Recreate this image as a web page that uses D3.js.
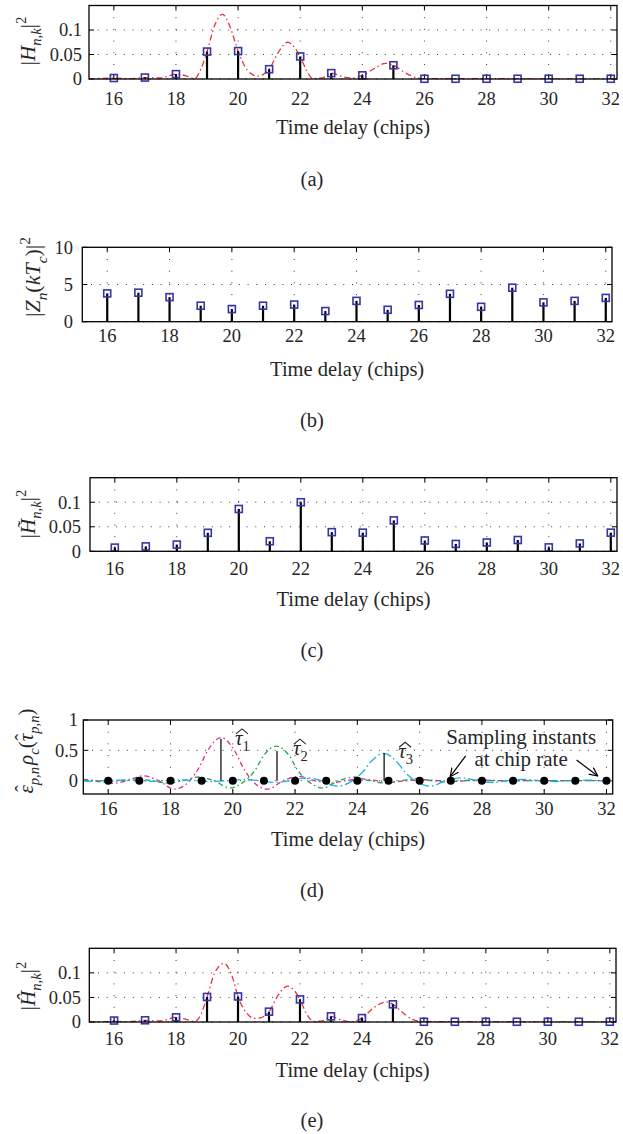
<!DOCTYPE html>
<html><head><meta charset="utf-8">
<script src="https://cdn.jsdelivr.net/npm/d3@7"></script>
<style>body{margin:0;background:#fff} svg{display:block} text{font-family:"Liberation Serif","DejaVu Serif",serif;fill:#262626;font-weight:normal}</style>
</head><body><svg id="c" width="623" height="1134"></svg>
<script>
// ---------------- DATA ----------------
const delays = [16,17,18,19,20,21,22,23,24,25,26,27,28,29,30,31,32];
const xTicks = [16,18,20,22,24,26,28,30,32];
const xDomain = [15.2, 32.2];

const hA = [0.002,0.003,0.010,0.056,0.057,0.020,0.046,0.012,0.0075,0.028,0.0005,0.0005,0.0005,0.0005,0.0005,0.0005,0.0005];
const zB = [3.8,3.9,3.3,2.15,1.7,2.15,2.3,1.43,2.8,1.6,2.25,3.75,2.0,4.57,2.6,2.8,3.2];
const hC = [0.0075,0.010,0.0137,0.0377,0.0863,0.0205,0.100,0.039,0.038,0.063,0.022,0.015,0.018,0.023,0.008,0.016,0.038];
const hE = [0.003,0.0035,0.0095,0.051,0.052,0.021,0.046,0.0115,0.008,0.036,0.0005,0.0005,0.0005,0.0005,0.0005,0.0005,0.0005];

const curveA = [[15.2,0],[16,0.002],[16.5,0.0005],[17,0.003],[17.5,0.002],[18,0.010],[18.3,0.007],[18.6,0.001],[18.8,0.02],[19,0.056],[19.25,0.11],[19.5,0.132],[19.75,0.105],[20,0.057],[20.3,0.018],[20.62,0.006],[20.8,0.009],[21,0.020],[21.3,0.055],[21.6,0.075],[21.8,0.066],[22,0.046],[22.2,0.018],[22.4,0.001],[22.7,0.002],[23,0.012],[23.4,0.004],[23.7,0.002],[24,0.0075],[24.4,0.022],[24.75,0.032],[25,0.028],[25.4,0.012],[25.8,0.002],[26,0.0005],[28,0.0005],[32.2,0]];
const curveE = [[15.2,0],[16,0.001],[16.5,0.0005],[17,0.0035],[17.5,0.002],[18,0.0095],[18.3,0.006],[18.6,0.001],[18.8,0.015],[19,0.051],[19.25,0.100],[19.55,0.119],[19.8,0.095],[20,0.052],[20.25,0.020],[20.55,0.0075],[20.75,0.009],[21,0.021],[21.3,0.055],[21.6,0.073],[21.8,0.065],[22,0.046],[22.2,0.018],[22.45,0.001],[22.75,0.003],[23,0.0115],[23.3,0.005],[23.6,0.0005],[24,0.008],[24.4,0.030],[24.8,0.041],[25,0.036],[25.3,0.020],[25.6,0.006],[26,0.0005],[28,0.0005],[32.2,0]];

const pathMagenta = [[15.2,0.02],[15.62,0],[16.12,-0.045],[16.62,0],[17.12,0.08],[17.62,0],[18.12,-0.14],[18.62,0],[18.9,0.2],[19.2,0.5],[19.62,0.71],[20.05,0.5],[20.35,0.2],[20.62,0],[21.12,-0.14],[21.62,0],[22.12,0.07],[22.62,0],[23.12,-0.04],[23.62,0],[24.12,0.03],[24.62,0],[25.12,-0.02],[25.62,0],[26.12,0.015],[26.62,0],[27.12,-0.01],[27.62,0],[28.12,0.008],[28.62,0],[32.2,0]];
const pathGreen = [[15.2,0.01],[15.4,0],[15.9,-0.02],[16.4,0],[16.9,0.03],[17.4,0],[17.9,-0.04],[18.4,0],[18.9,0.06],[19.4,0],[19.9,-0.12],[20.4,0],[20.7,0.16],[21.0,0.42],[21.4,0.57],[21.8,0.42],[22.1,0.16],[22.4,0],[22.9,-0.12],[23.4,0],[23.9,0.06],[24.4,0],[24.9,-0.04],[25.4,0],[25.9,0.03],[26.4,0],[26.9,-0.02],[27.4,0],[27.9,0.012],[28.4,0],[28.9,-0.008],[29.4,0],[32.2,0]];
const pathCyan = [[15.2,0.005],[15.35,-0.01],[15.85,0],[16.35,0.01],[16.85,0],[17.35,-0.012],[17.85,0],[18.35,0.013],[18.85,0],[19.35,-0.015],[19.85,0],[20.35,0.02],[20.85,0],[21.35,-0.03],[21.85,0],[22.35,0.045],[22.85,0],[23.35,-0.09],[23.85,0],[24.15,0.13],[24.45,0.32],[24.85,0.45],[25.25,0.32],[25.55,0.13],[25.85,0],[26.35,-0.09],[26.85,0],[27.35,0.045],[27.85,0],[28.35,-0.03],[28.85,0],[29.35,0.02],[29.85,0],[30.35,-0.015],[30.85,0],[31.35,0.01],[31.85,0],[32.2,-0.005]];
const tauEst = [19.62, 21.42, 24.86];
const tauAmp = [0.69, 0.49, 0.455];
const tauLabels = ['1', '2', '3'];
const tauLabelPos = [[20.07, 0.59], [21.93, 0.42], [25.31, 0.37]];

// ---------------- DRAW ----------------
const svg = d3.select('#c');
const FS_TICK = 18.5, FS_LAB = 20.5;
const HAT = '\u02C6';

// parts: {t, it, sub, sup, hat}
function addParts(t, parts, size) {
  let shift = 0, pendingDx = 0, pendingDy = 0;
  parts.forEach(p => {
    const target = p.sub ? size * 0.3 : p.sup ? -size * 0.45 : 0;
    const ts = t.append('tspan').text(p.t).attr('dy', target - shift + pendingDy);
    shift = target;
    const dx = (p.dx || 0) + pendingDx;
    if (dx) ts.attr('dx', dx);
    pendingDx = 0; pendingDy = 0;
    if (p.it) ts.style('font-style', 'italic');
    if (p.sub || p.sup) ts.style('font-size', (size * 0.7) + 'px');
    if (p.hat) {
      const w = p.hat * size, hw = 0.333 * size;
      t.append('tspan').text(HAT).attr('dx', -(w / 2 + hw / 2) + 0.06 * size).attr('dy', -size * 0.12)
        .style('font-size', size + 'px');
      pendingDx = (w / 2 - hw / 2) - 0.06 * size;
      pendingDy = size * 0.12;
    }
  });
}
function mathText(x, y, parts, size) {
  const t = svg.append('text').attr('transform', `translate(${x},${y}) rotate(-90)`)
    .attr('text-anchor', 'middle').style('font-size', size + 'px');
  addParts(t, parts, size);
  return t;
}

function panel(cfg) {
  const x = d3.scaleLinear().domain(xDomain).range([cfg.left, cfg.right]);
  const y = d3.scaleLinear().domain(cfg.yDomain).range([cfg.bottom, cfg.top]);
  const g = svg.append('g');
  const id = 'clip' + cfg.name;
  svg.append('clipPath').attr('id', id).append('rect')
    .attr('x', cfg.left).attr('y', cfg.top).attr('width', cfg.right - cfg.left).attr('height', cfg.bottom - cfg.top);

  // grid
  g.selectAll('.gv').data(xTicks).join('line')
    .attr('x1', d => x(d)).attr('x2', d => x(d)).attr('y1', cfg.top).attr('y2', cfg.bottom)
    .attr('stroke', '#222').attr('stroke-width', 0.9).attr('stroke-dasharray', '1,10.7');
  g.selectAll('.gh').data(cfg.yTicks.filter(v => Math.abs(y(v) - cfg.top) > 2)).join('line')
    .attr('x1', cfg.left).attr('x2', cfg.right).attr('y1', d => y(d)).attr('y2', d => y(d))
    .attr('stroke', '#222').attr('stroke-width', 0.9).attr('stroke-dasharray', '1,7.7');

  // ticks (inside, all four sides)
  const tl = 5;
  xTicks.forEach(v => {
    g.append('line').attr('x1', x(v)).attr('x2', x(v)).attr('y1', cfg.bottom).attr('y2', cfg.bottom - tl).attr('stroke', '#000').attr('stroke-width', 1);
    g.append('line').attr('x1', x(v)).attr('x2', x(v)).attr('y1', cfg.top).attr('y2', cfg.top + tl).attr('stroke', '#000').attr('stroke-width', 1);
  });
  cfg.yTicks.forEach(v => {
    g.append('line').attr('x1', cfg.left).attr('x2', cfg.left + tl).attr('y1', y(v)).attr('y2', y(v)).attr('stroke', '#000').attr('stroke-width', 1);
    g.append('line').attr('x1', cfg.right).attr('x2', cfg.right - tl).attr('y1', y(v)).attr('y2', y(v)).attr('stroke', '#000').attr('stroke-width', 1);
  });

  // tick labels
  g.selectAll('.xl').data(xTicks).join('text')
    .attr('x', d => x(d)).attr('y', cfg.xtickY).attr('text-anchor', 'middle')
    .style('font-size', FS_TICK + 'px').text(d => d);
  g.selectAll('.yl').data(cfg.yTicks).join('text')
    .attr('x', cfg.ytickX).attr('y', d => y(d)).attr('dy', '0.35em').attr('text-anchor', 'end')
    .style('font-size', FS_TICK + 'px').text((d, i) => cfg.yLabels[i]);

  const plot = g.append('g').attr('clip-path', `url(#${id})`);

  // continuous curves
  (cfg.curves || []).forEach(c => {
    plot.append('path').datum(c.data)
      .attr('d', d3.line().x(d => x(d[0])).y(d => y(d[1])).curve(d3.curveMonotoneX))
      .attr('fill', 'none').attr('stroke', c.color).attr('stroke-width', c.width || 1.3)
      .attr('stroke-dasharray', c.dash);
  });

  // stems + squares
  if (cfg.values) {
    g.selectAll('.st').data(cfg.values).join('line')
      .attr('x1', (d, i) => x(delays[i])).attr('x2', (d, i) => x(delays[i]))
      .attr('y1', y(0)).attr('y2', d => y(d))
      .attr('stroke', '#000').attr('stroke-width', 2.2);
    const s = 7;
    g.selectAll('.sq').data(cfg.values).join('rect')
      .attr('x', (d, i) => x(delays[i]) - s / 2).attr('y', d => y(d) - s / 2)
      .attr('width', s).attr('height', s)
      .attr('fill', 'none').attr('stroke', '#3636a8').attr('stroke-width', 1.6);
  }

  if (cfg.extra) cfg.extra(g, x, y);

  // box
  g.append('rect').attr('x', cfg.left).attr('y', cfg.top).attr('width', cfg.right - cfg.left).attr('height', cfg.bottom - cfg.top)
    .attr('fill', 'none').attr('stroke', '#000').attr('stroke-width', 1.3);

  // axis label & panel label
  g.append('text').attr('x', (cfg.left + cfg.right) / 2).attr('y', cfg.xlabY).attr('text-anchor', 'middle')
    .style('font-size', FS_LAB + 'px').text('Time delay (chips)');
  g.append('text').attr('x', 312).attr('y', cfg.panY).attr('text-anchor', 'middle')
    .style('font-size', FS_LAB + 'px').text(cfg.panel);
  mathText(cfg.ylabX, cfg.ylabY, cfg.ylab, cfg.ylabSize || 20);
}

const redDash = '6,3,1.5,3';

panel({name: 'a', left: 89, right: 617, top: 5.5, bottom: 79, yDomain: [0, 0.15],
  yTicks: [0, 0.05, 0.1], yLabels: ['0', '0.05', '0.1'], ytickX: 82, xtickY: 105, xlabY: 134, panY: 186,
  values: hA, curves: [{data: curveA, color: '#e8323c', dash: redDash}], panel: '(a)',
  ylabX: 35, ylabY: 41, ylabSize: 21,
  ylab: [{t: '|'}, {t: 'H', it: true}, {t: 'n,k', it: true, sub: true}, {t: '|'}, {t: '2', sup: true}]});

panel({name: 'b', left: 82.3, right: 612, top: 247.3, bottom: 321.7, yDomain: [0, 10],
  yTicks: [0, 5, 10], yLabels: ['0', '5', '10'], ytickX: 73, xtickY: 342, xlabY: 376, panY: 427,
  values: zB, panel: '(b)',
  ylabX: 40, ylabY: 277, ylabSize: 22,
  ylab: [{t: '|'}, {t: 'Z', it: true}, {t: 'n', it: true, sub: true}, {t: '('}, {t: 'kT', it: true}, {t: 'c', it: true, sub: true}, {t: ')|'}, {t: '2', sup: true}]});

panel({name: 'c', left: 90, right: 617, top: 477.7, bottom: 551.3, yDomain: [0, 0.15],
  yTicks: [0, 0.05, 0.1], yLabels: ['0', '0.05', '0.1'], ytickX: 81, xtickY: 575, xlabY: 606, panY: 657,
  values: hC, panel: '(c)',
  ylabX: 35, ylabY: 514, ylabSize: 21,
  ylab: [{t: '|'}, {t: 'H\u0303', it: true}, {t: 'n,k', it: true, sub: true}, {t: '|'}, {t: '2', sup: true}]});

panel({name: 'd', left: 83.3, right: 612.7, top: 720, bottom: 794, yDomain: [-0.22, 1],
  yTicks: [0, 0.5, 1], yLabels: ['0', '0.5', '1'], ytickX: 78, xtickY: 815, xlabY: 846, panY: 897,
  curves: [
    {data: pathMagenta, color: '#e5288e', dash: '5,3,1.5,3'},
    {data: pathGreen, color: '#1fa54c', dash: '5,3,1.5,3'},
    {data: pathCyan, color: '#19b2e6', dash: '9,3,1.5,3'}],
  panel: '(d)',
  ylabX: 33, ylabY: 751, ylabSize: 21,
  ylab: [{t: '\u03B5', it: true, hat: 0.42}, {t: 'p,n', it: true, sub: true}, {t: '\u03C1', it: true, dx: 2}, {t: 'c', it: true, sub: true}, {t: '('}, {t: '\u03C4', it: true, hat: 0.44}, {t: 'p,n', it: true, sub: true}, {t: ')'}],
  extra: (g, x, y) => {
    g.selectAll('.tl').data(tauEst).join('line')
      .attr('x1', d => x(d)).attr('x2', d => x(d)).attr('y1', y(0)).attr('y2', (d, i) => y(tauAmp[i]))
      .attr('stroke', '#111').attr('stroke-width', 1.3);
    g.selectAll('.dot').data(delays).join('circle')
      .attr('cx', d => x(d)).attr('cy', y(0)).attr('r', 4).attr('fill', '#000');
    tauLabelPos.forEach((p, i) => {
      const bx = x(p[0]), by = y(p[1]);
      const tx = g.append('text').attr('x', bx).attr('y', by).style('font-size', '21px');
      tx.append('tspan').text('\u03C4').style('font-style', 'italic');
      tx.append('tspan').text(tauLabels[i]).attr('dy', 6).style('font-size', '14.5px');
      // wide hat drawn as a stroke above tau
      g.append('path').attr('d', `M${bx + 1},${by - 11} L${bx + 7},${by - 16} L${bx + 13},${by - 11}`)
        .attr('fill', 'none').attr('stroke', '#262626').attr('stroke-width', 1.1);
    });
    g.append('text').attr('x', x(29.26)).attr('y', y(0.605)).attr('text-anchor', 'middle').style('font-size', '21px').text('Sampling instants');
    g.append('text').attr('x', x(29.26)).attr('y', y(0.247)).attr('text-anchor', 'middle').style('font-size', '21px').text('at chip rate');
    svg.append('defs').append('marker').attr('id', 'ah').attr('viewBox', '0 0 10 10').attr('refX', 9.5).attr('refY', 5)
      .attr('markerWidth', 9).attr('markerHeight', 9).attr('markerUnits', 'userSpaceOnUse').attr('orient', 'auto')
      .append('path').attr('d', 'M0,0.5 L9.5,5 L0,9.5').attr('fill', 'none').attr('stroke', '#000').attr('stroke-width', 1.3);
    const arrows = [[27.48, 0.41, 26.98, 0.066], [31.04, 0.34, 31.72, 0.077]];
    arrows.forEach(a => {
      g.append('line').attr('x1', x(a[0])).attr('y1', y(a[1])).attr('x2', x(a[2])).attr('y2', y(a[3]))
        .attr('stroke', '#000').attr('stroke-width', 1.2).attr('marker-end', 'url(#ah)');
    });
  }});

panel({name: 'e', left: 89.3, right: 616, top: 948.3, bottom: 1022, yDomain: [0, 0.15],
  yTicks: [0, 0.05, 0.1], yLabels: ['0', '0.05', '0.1'], ytickX: 81, xtickY: 1045, xlabY: 1077, panY: 1127,
  values: hE, curves: [{data: curveE, color: '#e8323c', dash: redDash}], panel: '(e)',
  ylabX: 35, ylabY: 986, ylabSize: 21,
  ylab: [{t: '|'}, {t: '\u0124', it: true}, {t: 'n,k', it: true, sub: true}, {t: '|'}, {t: '2', sup: true}]});
</script>
</body></html>
